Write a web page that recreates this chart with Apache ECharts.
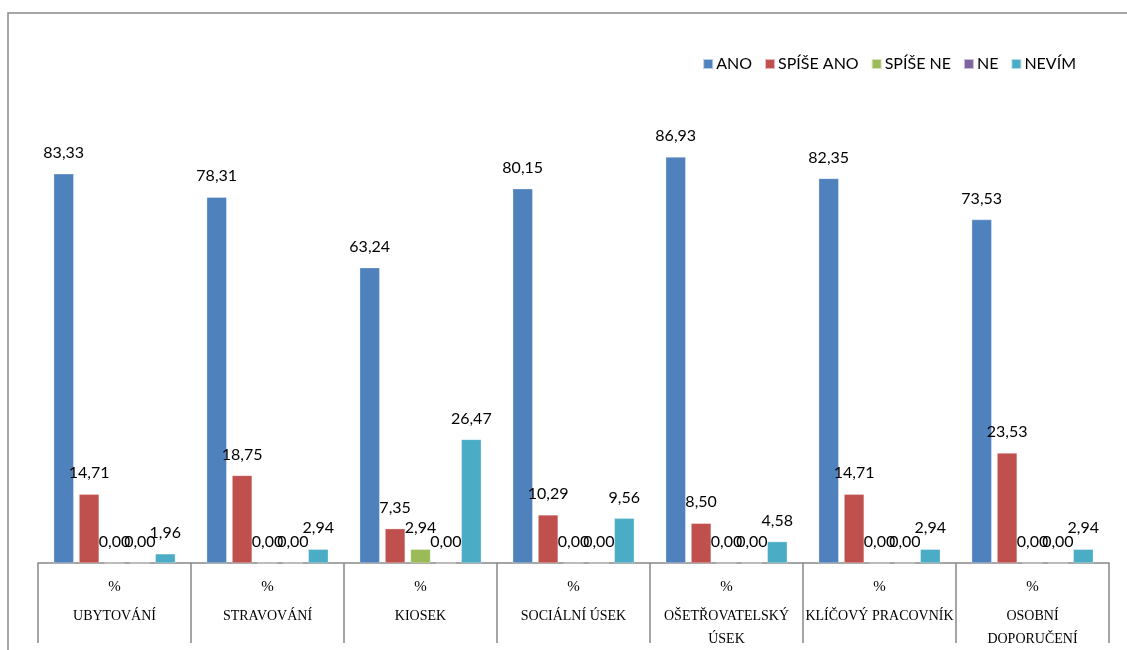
<!DOCTYPE html>
<html>
<head>
<meta charset="utf-8">
<script src="https://cdn.jsdelivr.net/npm/echarts@6/dist/echarts.min.js"></script>
<style>html,body{margin:0;padding:0;background:#fff;}#c{width:1127px;height:650px;}</style>
</head>
<body>
<div id="c"></div>
<script>
const categories = ['UBYTOVÁNÍ', 'STRAVOVÁNÍ', 'KIOSEK', 'SOCIÁLNÍ ÚSEK', 'OŠETŘOVATELSKÝ ÚSEK', 'KLÍČOVÝ PRACOVNÍK', 'OSOBNÍ DOPORUČENÍ'];
const tickLabels = ['UBYTOVÁNÍ', 'STRAVOVÁNÍ', 'KIOSEK', 'SOCIÁLNÍ ÚSEK', 'OŠETŘOVATELSKÝ\nÚSEK', 'KLÍČOVÝ PRACOVNÍK', 'OSOBNÍ\nDOPORUČENÍ'];
const seriesNames = ['ANO', 'SPÍŠE ANO', 'SPÍŠE NE', 'NE', 'NEVÍM'];
const ano = [83.33, 78.31, 63.24, 80.15, 86.93, 82.35, 73.53];
const spiseAno = [14.71, 18.75, 7.35, 10.29, 8.50, 14.71, 23.53];
const spiseNe = [0, 0, 2.94, 0, 0, 0, 0];
const ne = [0, 0, 0, 0, 0, 0, 0];
const nevim = [1.96, 2.94, 26.47, 9.56, 4.58, 2.94, 2.94];
const colors = ['#4F81BD', '#C0504D', '#9BBB59', '#8064A2', '#4BACC6'];
const values = [ano, spiseAno, spiseNe, ne, nevim];

const chart = echarts.init(document.getElementById('c'));
const fmt = p => p.value.toFixed(2).replace('.', ',');
chart.setOption({
  animation: false,
  color: colors,
  graphic: [{
    type: 'rect', shape: {x: 8, y: 13, width: 1200, height: 700},
    style: {fill: 'none', stroke: '#8a8a8a', lineWidth: 1.5}, silent: true
  }],
  legend: {
    data: seriesNames, right: 46, top: 51,
    itemWidth: 10, itemHeight: 10, itemGap: 12, icon: 'rect',
    textStyle: {fontFamily: 'Lato', fontSize: 16, color: '#000', padding: [0, 0, 0, -2]}
  },
  grid: {left: 38, right: 18, top: 96, bottom: 87},
  xAxis: {
    type: 'category', data: categories,
    axisLine: {lineStyle: {color: '#888', width: 1.5}},
    axisTick: {show: true, length: 80, lineStyle: {color: '#888', width: 1.5}},
    axisLabel: {
      interval: 0, margin: 6,
      formatter: (v, i) => '{p|%}\n{n|' + tickLabels[i] + '}',
      rich: {
        p: {fontFamily: 'Liberation Serif', fontSize: 15, color: '#000', lineHeight: 36, align: 'center'},
        n: {fontFamily: 'Liberation Serif', fontSize: 14, color: '#000', lineHeight: 23, align: 'center'}
      }
    }
  },
  yAxis: {type: 'value', min: 0, max: 100, show: false, splitLine: {show: false}},
  series: seriesNames.map((n, i) => ({
    name: n, type: 'bar', data: values[i], barWidth: 20, barGap: '27%',
    itemStyle: {color: colors[i], borderColor: 'rgba(255,255,255,0.6)', borderWidth: 0.5},
    label: {show: true, position: 'top', distance: 13, formatter: fmt,
      fontFamily: 'Lato', fontSize: 16, color: '#000'}
  }))
});
</script>
</body>
</html>
